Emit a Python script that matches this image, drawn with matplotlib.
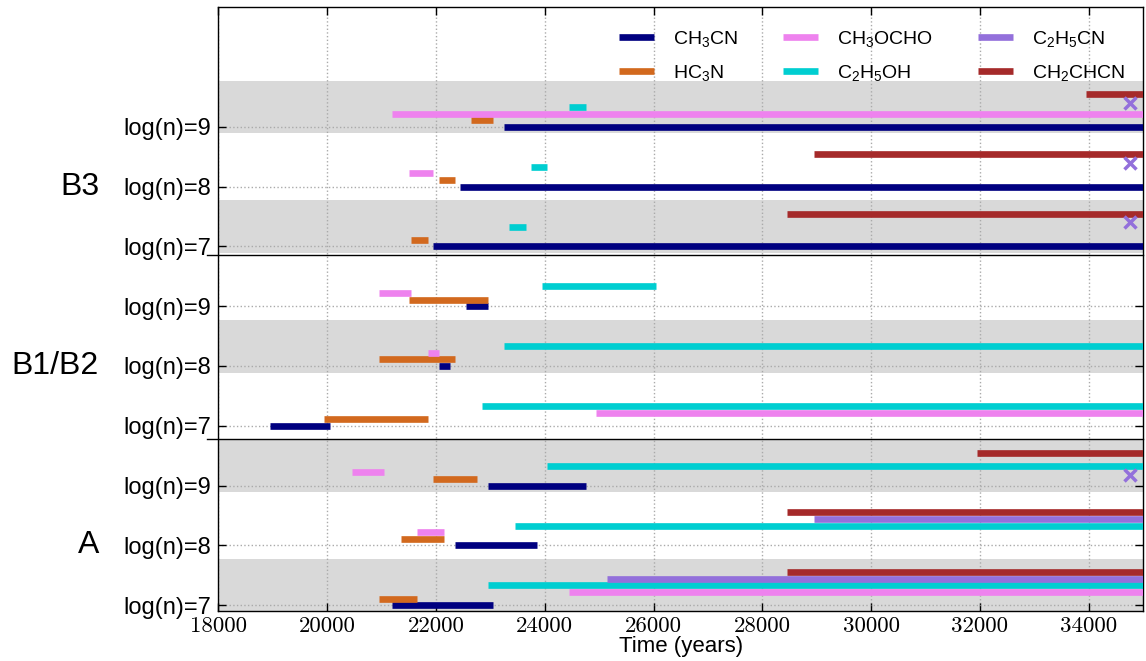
import numpy as np
import matplotlib
matplotlib.use("Agg")
import matplotlib.pyplot as plt
from matplotlib.transforms import blended_transform_factory

plt.rcParams['font.family'] = ['Liberation Sans', 'DejaVu Sans']
plt.rcParams['mathtext.fontset'] = 'custom'
plt.rcParams['mathtext.rm'] = 'Liberation Sans'
plt.rcParams['mathtext.it'] = 'Liberation Sans:italic'
plt.rcParams['mathtext.default'] = 'regular'

# level index: A 7,8,9 -> 0,1,2 ; B1/B2 -> 3,4,5 ; B3 -> 6,7,8
groups = ['A', 'B1/B2', 'B3']
level_labels = ['log(n)=7', 'log(n)=8', 'log(n)=9'] * 3
shaded_levels = [0, 2, 4, 6, 8]

species = [r'CH$_3$CN', r'HC$_3$N', r'CH$_3$OCHO', r'C$_2$H$_5$OH', r'C$_2$H$_5$CN', r'CH$_2$CHCN']
colors = ['navy', 'chocolate', 'violet', 'darkturquoise', 'mediumpurple', 'brown']

# (level, start, end) in years
ch3cn = [(0, 21200, 23050), (1, 22350, 23850), (2, 22950, 24750),
         (3, 18950, 20050), (4, 22050, 22250), (5, 22550, 22950),
         (6, 21950, 35000), (7, 22450, 35000), (8, 23250, 35000)]
hc3n = [(0, 20950, 21650), (1, 21350, 22150), (2, 21950, 22750),
        (3, 19950, 21850), (4, 20950, 22350), (5, 21500, 22950),
        (6, 21550, 21850), (7, 22050, 22350), (8, 22650, 23050)]
ch3ocho = [(0, 24450, 35000), (1, 21650, 22150), (2, 20450, 21050),
           (3, 24950, 35000), (4, 21850, 22050), (5, 20950, 21550),
           (7, 21500, 21950), (8, 21200, 35000)]
c2h5oh = [(0, 22950, 35000), (1, 23450, 35000), (2, 24050, 35000),
          (3, 22850, 35000), (4, 23250, 35000), (5, 23950, 26050),
          (6, 23350, 23650), (7, 23750, 24050), (8, 24450, 24750)]
c2h5cn = [(0, 25150, 35000), (1, 28950, 35000)]
ch2chcn = [(0, 28450, 35000), (1, 28450, 35000), (2, 31950, 35000),
           (6, 28450, 35000), (7, 28950, 35000), (8, 33950, 35000)]

# single-time C2H5CN detections (x marks)
c2h5cn_mark_t = [34750, 34750, 34750, 34750]
c2h5cn_mark_y = [2.17, 6.4, 7.4, 8.4]

all_bars = [ch3cn, hc3n, ch3ocho, c2h5oh, c2h5cn, ch2chcn]
step = 0.11

fig = plt.figure(figsize=(11.46, 6.61), dpi=100)
ax = fig.add_axes([0.1905, 0.0755, 0.807, 0.9135])

for lev in shaded_levels:
    ax.axhspan(lev - 0.11, lev + 0.77, color='#d9d9d9', lw=0, zorder=0)

for k, bars in enumerate(all_bars):
    y = [b[0] + k * step for b in bars]
    x0 = [b[1] for b in bars]
    x1 = [b[2] for b in bars]
    ax.hlines(y, x0, x1, colors=colors[k], lw=4.8, label=species[k], zorder=3)

ax.plot(c2h5cn_mark_t, c2h5cn_mark_y, 'x', color='mediumpurple', ms=8, mew=2.5, zorder=4)

# separators between model groups
for ysep in [2.78, 5.86]:
    ax.plot([17790, 35000], [ysep, ysep], color='k', lw=1.0, clip_on=False, zorder=5)

ax.set_xlim(18000, 35000)
ax.set_ylim(-0.1, 10.0)
ax.set_xticks(np.arange(18000, 34001, 2000))
ax.set_xticklabels([str(t) for t in range(18000, 34001, 2000)], fontfamily='cmr10', fontsize=16.5)
ax.set_yticks(range(9))
ax.set_yticklabels(level_labels, fontsize=17)
ax.tick_params(direction='in', top=True, right=True, length=6, width=1)
ax.tick_params(axis='y', pad=5)
ax.tick_params(axis='x', pad=4)
ax.grid(True, ls=':', color='#aaaaaa', lw=1, zorder=1)
ax.set_axisbelow(True)
for s in ax.spines.values():
    s.set_linewidth(1.0)

ax.set_xlabel('Time (years)', fontsize=16, labelpad=0)

trans = blended_transform_factory(ax.transAxes, ax.transData)
for g, name in enumerate(groups):
    ax.text(-0.129, 3 * g + 1, name, transform=trans, ha='right', va='center', fontsize=23)

ax.legend(loc='upper right', bbox_to_anchor=(1.0, 0.993), ncol=3, frameon=False, fontsize=14,
          handlelength=1.8, handletextpad=1.0, columnspacing=2.3, labelspacing=0.7)

plt.savefig('out.png', dpi=100)
